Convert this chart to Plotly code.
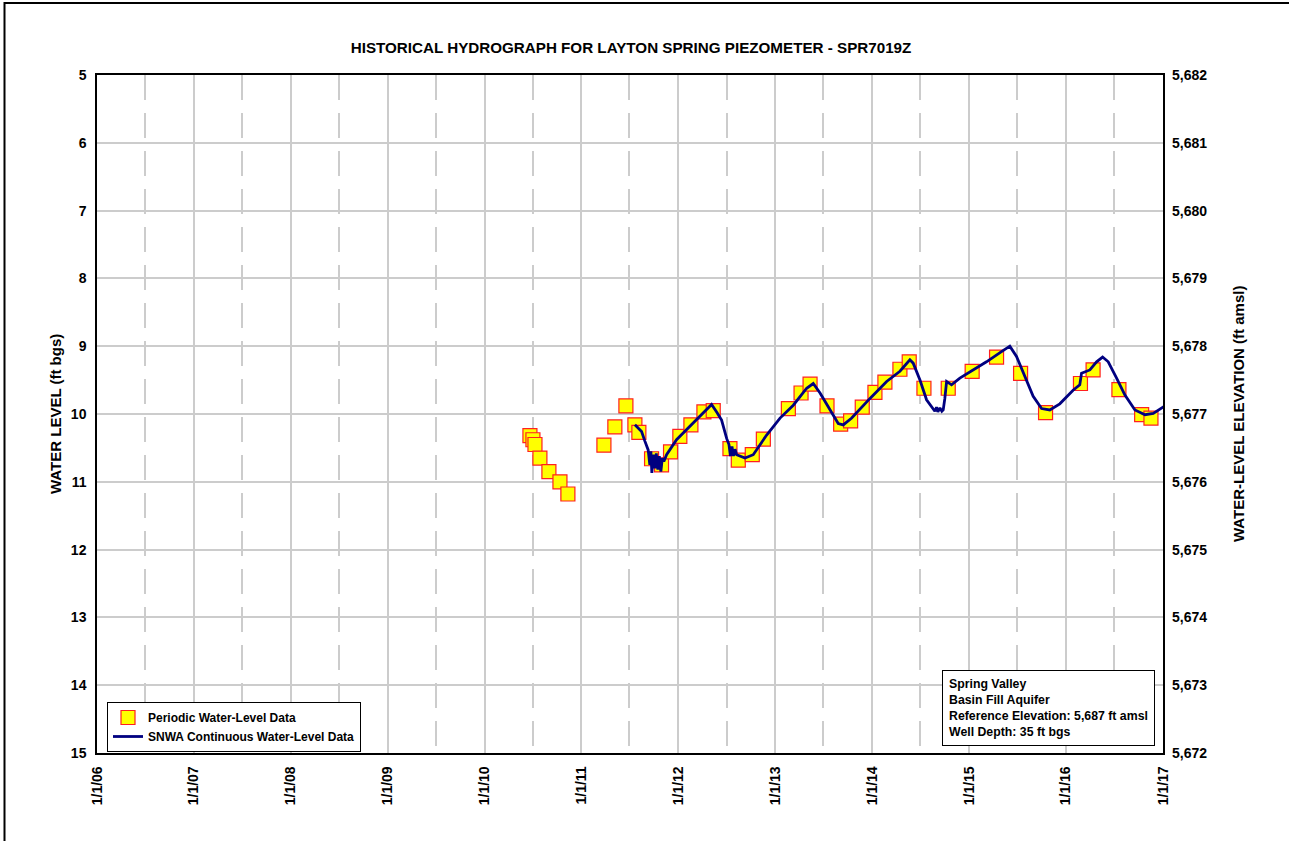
import datetime as dt
import plotly.graph_objects as go

# ---------------- data ----------------
periodic_year = [2010.468, 2010.499, 2010.520, 2010.571, 2010.664, 2010.778, 2010.860,
                 2011.232, 2011.345, 2011.459, 2011.552, 2011.593, 2011.724, 2011.827,
                 2011.920, 2012.016, 2012.130, 2012.264, 2012.360, 2012.532, 2012.618,
                 2012.762, 2012.876, 2013.134, 2013.265, 2013.358, 2013.533, 2013.674,
                 2013.777, 2013.897, 2014.028, 2014.131, 2014.286, 2014.382, 2014.534,
                 2014.785, 2015.032, 2015.284, 2015.532, 2015.790, 2016.150, 2016.280,
                 2016.546, 2016.780, 2016.876]
periodic_level = [10.32, 10.38, 10.45, 10.65, 10.85, 11.00, 11.18,
                  10.46, 10.19, 9.88, 10.16, 10.27, 10.66, 10.75,
                  10.56, 10.33, 10.16, 9.97, 9.95, 10.51, 10.68,
                  10.60, 10.37, 9.92, 9.69, 9.56, 9.88, 10.15,
                  10.10, 9.90, 9.68, 9.53, 9.34, 9.23, 9.62,
                  9.62, 9.37, 9.16, 9.40, 9.98, 9.55, 9.35,
                  9.64, 10.01, 10.06]

continuous_year = [2011.552, 2011.621, 2011.655, 2011.689, 2011.706, 2011.717, 2011.727,
                   2011.742, 2011.758, 2011.773, 2011.789, 2011.804, 2011.820, 2011.835,
                   2011.851, 2011.879, 2011.982, 2012.085, 2012.188, 2012.274, 2012.343,
                   2012.395, 2012.446, 2012.498, 2012.522, 2012.537, 2012.553, 2012.568,
                   2012.584, 2012.601, 2012.687, 2012.772, 2012.910, 2013.048, 2013.185,
                   2013.323, 2013.391, 2013.461, 2013.546, 2013.649, 2013.701, 2013.788,
                   2013.977, 2014.149, 2014.286, 2014.389, 2014.423, 2014.493, 2014.561,
                   2014.630, 2014.647, 2014.664, 2014.678, 2014.699, 2014.719, 2014.733,
                   2014.745, 2014.750, 2014.768, 2014.819, 2014.905, 2015.042, 2015.180,
                   2015.335, 2015.421, 2015.490, 2015.576, 2015.662, 2015.749, 2015.834,
                   2015.937, 2016.074, 2016.143, 2016.161, 2016.247, 2016.316, 2016.378,
                   2016.436, 2016.522, 2016.608, 2016.711, 2016.814, 2016.900, 2016.969,
                   2017.021]
continuous_level = [10.16, 10.26, 10.40, 10.53, 10.75, 10.55, 10.87,
                    10.60, 10.80, 10.58, 10.82, 10.62, 10.85, 10.65,
                    10.70, 10.60, 10.38, 10.23, 10.09, 9.95, 9.86,
                    9.97, 10.09, 10.36, 10.45, 10.62, 10.48, 10.62,
                    10.52, 10.60, 10.65, 10.60, 10.31, 10.06, 9.87,
                    9.62, 9.55, 9.69, 9.89, 10.14, 10.16, 10.06,
                    9.77, 9.52, 9.37, 9.20, 9.25, 9.50, 9.79,
                    9.92, 9.96, 9.90, 9.97, 9.91, 9.96, 9.94,
                    9.85, 9.77, 9.52, 9.57, 9.47, 9.35, 9.23,
                    9.08, 9.00, 9.15, 9.45, 9.74, 9.92, 9.94,
                    9.85, 9.65, 9.57, 9.40, 9.35, 9.23, 9.16,
                    9.23, 9.47, 9.72, 9.94, 10.01, 9.99, 9.93,
                    9.88]

reference_elevation = 5687
tick_years = list(range(2006, 2018))
tick_labels = ["1/1/06", "1/1/07", "1/1/08", "1/1/09", "1/1/10", "1/1/11",
               "1/1/12", "1/1/13", "1/1/14", "1/1/15", "1/1/16", "1/1/17"]
info_lines = ["Spring Valley", "Basin Fill Aquifer",
              "Reference Elevation: 5,687 ft amsl", "Well Depth: 35 ft bgs"]


def to_date(y):
    yr = int(y)
    start = dt.datetime(yr, 1, 1)
    days = (dt.datetime(yr + 1, 1, 1) - start).days
    return start + dt.timedelta(days=(y - yr) * days)


FONT = "Liberation Sans, Arial, sans-serif"
W, H = 1289, 841
L, R, T, B = 97, 1163, 75, 753
PW, PH = R - L, B - T


def px_x(p):
    return (p - L) / PW


def px_y(p):
    return (B - p) / PH


fig = go.Figure()

fig.add_trace(go.Scatter(
    x=[to_date(v) for v in periodic_year], y=periodic_level,
    mode="markers", name="Periodic Water-Level Data",
    marker=dict(symbol="square", size=14, color="#FFFF00",
                line=dict(color="#FF2020", width=1.2)),
))
fig.add_trace(go.Scatter(
    x=[to_date(v) for v in continuous_year], y=continuous_level,
    mode="lines", name="SNWA Continuous Water-Level Data",
    line=dict(color="#000080", width=2.8),
))
fig.add_trace(go.Scatter(
    x=[to_date(v) for v in continuous_year],
    y=[reference_elevation - v for v in continuous_level],
    yaxis="y2", mode="lines", opacity=0, showlegend=False, hoverinfo="skip",
))

grid_col = "#cccccc"
fig.update_layout(
    width=W, height=H,
    margin=dict(l=L, r=W - R, t=T, b=H - B, pad=0),
    paper_bgcolor="white", plot_bgcolor="white",
    font=dict(family=FONT, color="black", size=14),
    title=dict(text="<b>HISTORICAL HYDROGRAPH FOR LAYTON SPRING PIEZOMETER - SPR7019Z</b>",
               x=px_x(631), xref="paper", xanchor="center",
               y=1 - 48 / H, yref="container", yanchor="middle",
               font=dict(family=FONT, size=15.2, color="black")),
    xaxis=dict(
        type="date",
        range=[to_date(2006), to_date(2017)],
        tickvals=[to_date(y) for y in tick_years], ticktext=tick_labels,
        tickangle=-90, tickfont=dict(family=FONT, size=14, weight="bold"),
        ticks="", ticklabelstandoff=6,
        showgrid=True, gridcolor=grid_col, gridwidth=1.5,
        minor=dict(tickvals=[dt.datetime(y, 7, 1) for y in tick_years[:-1]],
                   showgrid=True, gridcolor=grid_col, gridwidth=1.5,
                   griddash="25px,13px", ticks=""),
        showline=True, linecolor="black", linewidth=1.5, mirror=True,
        zeroline=False,
    ),
    yaxis=dict(
        range=[15, 5], dtick=1, tick0=5,
        tickfont=dict(family=FONT, size=14, weight="bold"),
        ticks="", ticklabelstandoff=6,
        showgrid=True, gridcolor=grid_col, gridwidth=1.5,
        showline=True, linecolor="black", linewidth=1.5, mirror=True,
        zeroline=False,
    ),
    yaxis2=dict(
        overlaying="y", side="right",
        range=[5672, 5682], dtick=1, tick0=5672, tickformat=",d",
        tickfont=dict(family=FONT, size=14, weight="bold"),
        ticks="", ticklabelstandoff=8, showgrid=False, zeroline=False,
        showline=False,
    ),
    legend=dict(
        x=px_x(107), y=px_y(702), xanchor="left", yanchor="top",
        bgcolor="white", bordercolor="black", borderwidth=1,
        font=dict(family=FONT, size=12, weight="bold"),
        tracegroupgap=0, itemwidth=30,
    ),
    showlegend=True,
)

# axis titles
fig.add_annotation(text="<b>WATER LEVEL (ft bgs)</b>", textangle=-90,
                   x=px_x(55), y=0.5, xref="paper", yref="paper",
                   xanchor="center", yanchor="middle", showarrow=False,
                   font=dict(family=FONT, size=15))
fig.add_annotation(text="<b>WATER-LEVEL ELEVATION (ft amsl)</b>", textangle=-90,
                   x=px_x(1238), y=0.5, xref="paper", yref="paper",
                   xanchor="center", yanchor="middle", showarrow=False,
                   font=dict(family=FONT, size=15))

# info box
fig.add_annotation(text="<b>" + "<br>".join(info_lines) + "</b>", align="left",
                   x=px_x(1155), y=px_y(746), xref="paper", yref="paper",
                   xanchor="right", yanchor="bottom", showarrow=False,
                   bgcolor="white", bordercolor="black", borderwidth=1, borderpad=6,
                   font=dict(family=FONT, size=12.3))

# outer frame
fig.add_shape(type="rect", xref="paper", yref="paper",
              x0=px_x(4.5), x1=px_x(1320), y0=px_y(880), y1=px_y(3),
              line=dict(color="black", width=2), fillcolor="rgba(0,0,0,0)", layer="above")

fig.write_html("out.html",
               config={"displayModeBar": False},
               post_script="document.body.style.margin='0';document.body.style.overflow='hidden';")
